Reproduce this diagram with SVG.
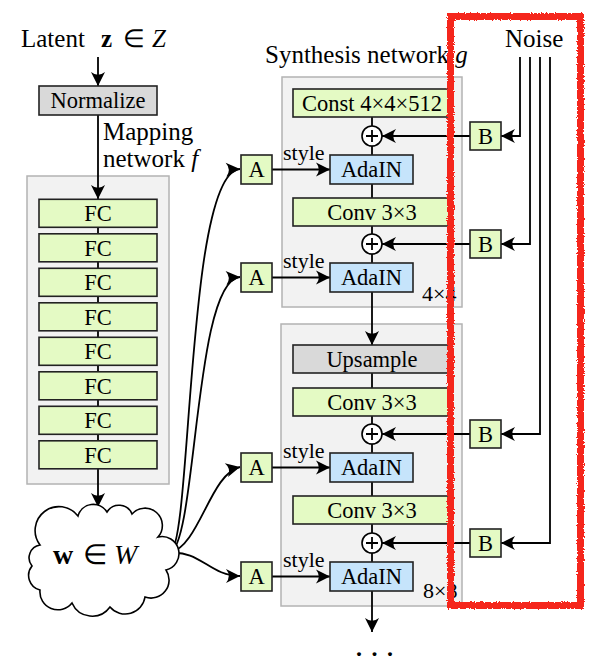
<svg xmlns="http://www.w3.org/2000/svg" width="590" height="664" viewBox="0 0 590 664">
<style>
text{font-family:"Liberation Serif","Times New Roman",serif;fill:#000}
.t{font-size:25px}
.l{font-size:22.5px;text-anchor:middle}
.s{font-size:22px}
.g{fill:#e4fac4;stroke:#222;stroke-width:1.6}
.b{fill:#c6e4fb;stroke:#222;stroke-width:1.6}
.n{fill:#d9d9d9;stroke:#222;stroke-width:1.6}
.c{fill:#f2f2f2;stroke:#b3b3b3;stroke-width:1.5}
.w{fill:none;stroke:#000;stroke-width:1.8}
.a{fill:none;stroke:#000;stroke-width:1.8;marker-end:url(#ah)}
.p{fill:#fff;stroke:#000;stroke-width:1.6}
</style>
<defs>
<marker id="ah" viewBox="-15 -8 17 16" refX="0" refY="0" markerWidth="17" markerHeight="16" orient="auto" markerUnits="userSpaceOnUse">
<path d="M0,0 L-14,-7 Q-8.5,0 -14,7 Z" fill="#000"/>
</marker>
<filter id="rough" x="-5%" y="-5%" width="110%" height="110%">
<feTurbulence type="fractalNoise" baseFrequency="0.7" numOctaves="2" seed="3" result="n"/>
<feDisplacementMap in="SourceGraphic" in2="n" scale="3.5" xChannelSelector="R" yChannelSelector="G"/>
</filter>
</defs>

<!-- containers -->
<g id="mapping-network">
<rect class="c" x="27" y="176" width="142" height="308"/>
</g>
<g id="synthesis-4x4">
<rect class="c" x="282" y="77" width="180" height="230"/>
<text class="s" x="422" y="301">4×4</text>
</g>
<g id="synthesis-8x8">
<rect class="c" x="281" y="324" width="181" height="282"/>
<text class="s" x="423" y="598">8×8</text>
</g>

<!-- connectors -->
<g id="connectors">
<path class="a" d="M98,57 V86"/>
<path class="a" d="M98,115 V199"/>
<path class="w" d="M98,227 V469"/>
<path class="a" d="M98,469 V507"/>
<!-- w to A -->
<path class="a" d="M170,553 C192,545 186,172 240,169"/>
<path class="a" d="M170,553 C197,543 194,280 240,277"/>
<path class="a" d="M170,553 C200,545 210,474 240,467"/>
<path class="a" d="M170,553 C200,550 210,576 240,576"/>
<!-- A to AdaIN -->
<path class="a" d="M272,169.5 H330"/>
<path class="a" d="M272,277.5 H330"/>
<path class="a" d="M272,467.5 H330"/>
<path class="a" d="M272,576.5 H330"/>
<!-- main column -->
<path class="w" d="M372,117 V155"/>
<path class="w" d="M372,184 V198"/>
<path class="w" d="M372,226 V263"/>
<path class="a" d="M372,292 V345"/>
<path class="w" d="M372,373 V388"/>
<path class="w" d="M372,416 V453"/>
<path class="w" d="M372,482 V496"/>
<path class="w" d="M372,524 V562"/>
<path class="a" d="M372,591 V632"/>
<!-- noise -->
<path class="a" d="M520,57 V136 H501"/>
<path class="a" d="M530,57 V244 H501"/>
<path class="a" d="M540,57 V434 H501"/>
<path class="a" d="M550,57 V543 H501"/>
<!-- B to plus -->
<path class="a" d="M470,136 H382"/>
<path class="a" d="M470,244 H382"/>
<path class="a" d="M470,434 H382"/>
<path class="a" d="M470,543 H382"/>
</g>

<g id="latent"><text class="t" x="21" y="47">Latent<tspan x="101" font-weight="bold">z</tspan><tspan x="123">∈</tspan><tspan x="152" font-style="italic">Z</tspan></text></g>
<g id="normalize"><rect class="n" x="39" y="86" width="118" height="29"/><text class="l" x="98" y="108">Normalize</text></g>
<g id="mapping-label"><text class="t" x="103" y="140">Mapping</text><text class="t" x="103" y="167">network <tspan font-style="italic">f</tspan></text></g>

<g id="fc1"><rect class="g" x="39" y="199.3" width="118" height="28"/><text class="l" x="98" y="221">FC</text></g>
<g id="fc2"><rect class="g" x="39" y="233.8" width="118" height="28"/><text class="l" x="98" y="255.5">FC</text></g>
<g id="fc3"><rect class="g" x="39" y="268.3" width="118" height="28"/><text class="l" x="98" y="290">FC</text></g>
<g id="fc4"><rect class="g" x="39" y="302.8" width="118" height="28"/><text class="l" x="98" y="324.5">FC</text></g>
<g id="fc5"><rect class="g" x="39" y="337.3" width="118" height="28"/><text class="l" x="98" y="359">FC</text></g>
<g id="fc6"><rect class="g" x="39" y="371.8" width="118" height="28"/><text class="l" x="98" y="393.5">FC</text></g>
<g id="fc7"><rect class="g" x="39" y="406.3" width="118" height="28"/><text class="l" x="98" y="428">FC</text></g>
<g id="fc8"><rect class="g" x="39" y="440.8" width="118" height="28"/><text class="l" x="98" y="462.5">FC</text></g>

<g id="w-cloud">
<path fill="#fff" stroke="#000" stroke-width="1.6" d="M40,545 A18,18 0 0 1 78,516 A16,16 0 0 1 107,512 A14,14 0 0 1 132,514 A17,17 0 0 1 158,537 A15,15 0 0 1 166,570 A18,18 0 0 1 145,597 A20,20 0 0 1 110,607 A22,22 0 0 1 72,603 A18,18 0 0 1 40,590 A15,15 0 0 1 32,566 A13,13 0 0 1 40,545 Z"/>
<text x="53" y="564" font-size="28"><tspan font-weight="bold">w</tspan><tspan x="83">∈</tspan><tspan x="114" font-style="italic">W</tspan></text>
</g>

<g id="synthesis-label"><text class="t" x="265" y="63" font-size="26">Synthesis network <tspan font-style="italic">g</tspan></text></g>
<g id="noise-label"><text class="t" x="505" y="47">Noise</text></g>

<g id="a1"><rect class="g" x="241" y="155" width="31" height="29"/><text class="l" x="256.5" y="177">A</text></g>
<g id="a2"><rect class="g" x="241" y="263" width="31" height="29"/><text class="l" x="256.5" y="285">A</text></g>
<g id="a3"><rect class="g" x="241" y="453" width="31" height="29"/><text class="l" x="256.5" y="475">A</text></g>
<g id="a4"><rect class="g" x="241" y="562" width="31" height="29"/><text class="l" x="256.5" y="584">A</text></g>
<g id="style-labels">
<text class="s" x="283" y="160">style</text>
<text class="s" x="283" y="268">style</text>
<text class="s" x="283" y="458">style</text>
<text class="s" x="283" y="567">style</text>
</g>

<g id="const"><rect class="g" x="293" y="89" width="158" height="28"/><text class="l" x="372" y="111">Const 4×4×512</text></g>
<g id="plus1"><circle class="p" cx="372" cy="136" r="10"/><path class="w" d="M366,136 H378 M372,130 V142"/></g>
<g id="adain1"><rect class="b" x="330" y="155" width="83" height="29"/><text class="l" x="371.5" y="177">AdaIN</text></g>
<g id="conv1"><rect class="g" x="293" y="198" width="158" height="28"/><text class="l" x="372" y="220">Conv 3×3</text></g>
<g id="plus2"><circle class="p" cx="372" cy="244" r="10"/><path class="w" d="M366,244 H378 M372,238 V250"/></g>
<g id="adain2"><rect class="b" x="330" y="263" width="83" height="29"/><text class="l" x="371.5" y="285">AdaIN</text></g>

<g id="upsample"><rect class="n" x="293" y="345" width="158" height="28"/><text class="l" x="372" y="367">Upsample</text></g>
<g id="conv2"><rect class="g" x="293" y="388" width="158" height="28"/><text class="l" x="372" y="410">Conv 3×3</text></g>
<g id="plus3"><circle class="p" cx="372" cy="434" r="10"/><path class="w" d="M366,434 H378 M372,428 V440"/></g>
<g id="adain3"><rect class="b" x="330" y="453" width="83" height="29"/><text class="l" x="371.5" y="475">AdaIN</text></g>
<g id="conv3"><rect class="g" x="293" y="496" width="158" height="28"/><text class="l" x="372" y="518">Conv 3×3</text></g>
<g id="plus4"><circle class="p" cx="372" cy="543" r="10"/><path class="w" d="M366,543 H378 M372,537 V549"/></g>
<g id="adain4"><rect class="b" x="330" y="562" width="83" height="29"/><text class="l" x="371.5" y="584">AdaIN</text></g>

<g id="b1"><rect class="g" x="470" y="122" width="31" height="28"/><text class="l" x="485.5" y="144">B</text></g>
<g id="b2"><rect class="g" x="470" y="230" width="31" height="28"/><text class="l" x="485.5" y="252">B</text></g>
<g id="b3"><rect class="g" x="470" y="420" width="31" height="28"/><text class="l" x="485.5" y="442">B</text></g>
<g id="b4"><rect class="g" x="470" y="529" width="31" height="28"/><text class="l" x="485.5" y="551">B</text></g>

<g id="ellipsis"><text x="356" y="656" font-size="24" font-weight="bold" letter-spacing="9.5">...</text></g>

<g id="highlight"><rect x="450.5" y="16.5" width="130" height="589" fill="none" stroke="#f5281a" stroke-width="7" filter="url(#rough)"/></g>
</svg>
